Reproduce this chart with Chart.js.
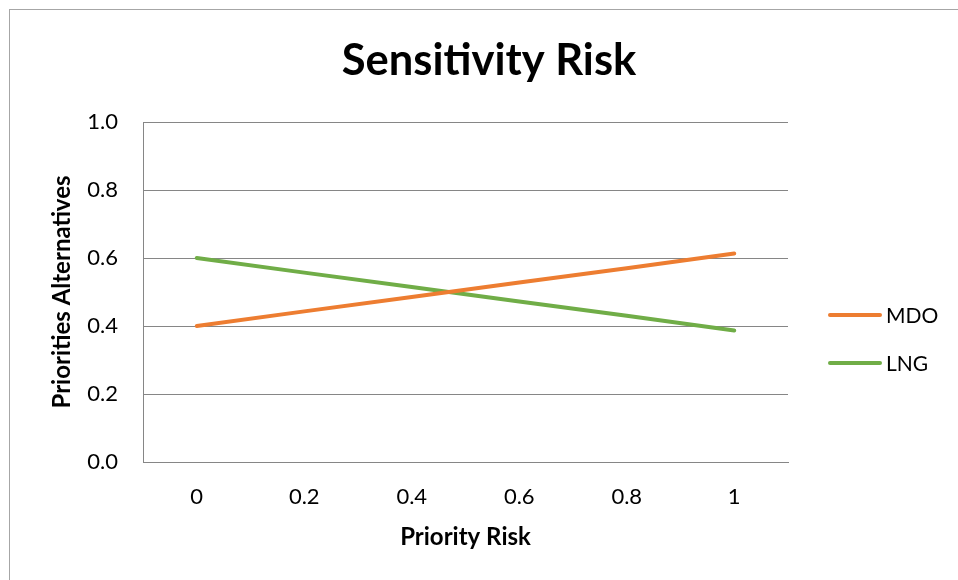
<!DOCTYPE html>
<html>
<head>
<meta charset="utf-8">
<script src="https://cdn.jsdelivr.net/npm/chart.js@4"></script>
<style>
  html, body { margin: 0; padding: 0; background: #fff; }
  #wrap { width: 958px; height: 580px; }
</style>
</head>
<body>
<div id="wrap"><canvas id="sensChart" width="958" height="580"></canvas></div>
<script>
// values
const riskLabels = ["0", "0.2", "0.4", "0.6", "0.8", "1"];
const mdoValues = [0.400, 0.443, 0.485, 0.528, 0.570, 0.613];
const lngValues = [0.600, 0.557, 0.515, 0.472, 0.430, 0.387];
const seriesNames = ["MDO", "LNG"];
const chartTitle = "Sensitivity Risk";

const fontFamily = "Lato, 'Open Sans', sans-serif";
Chart.defaults.font.family = fontFamily;
Chart.defaults.color = "#000";

// white background, grey frame and the title (centred on the whole chart box, like excel)
const chartFrame = {
  id: "chartFrame",
  beforeDraw(chart) {
    const ctx = chart.ctx;
    ctx.save();
    ctx.fillStyle = "#fff";
    ctx.fillRect(0, 0, chart.width, chart.height);
    ctx.strokeStyle = "#a6a6a6";
    ctx.lineWidth = 1;
    ctx.strokeRect(9.5, 9.5, chart.width + 20, chart.height + 20);
    ctx.fillStyle = "#000";
    ctx.font = "bold 43.5px " + fontFamily;
    ctx.textAlign = "center";
    ctx.textBaseline = "alphabetic";
    ctx.fillText(chartTitle, 489, 75);
    ctx.restore();
  }
};

// legend on the right, drawn from the datasets
const sideLegend = {
  id: "sideLegend",
  afterDraw(chart) {
    const ctx = chart.ctx;
    ctx.save();
    chart.data.datasets.forEach((ds, i) => {
      const y = 315 + i * 48;
      ctx.strokeStyle = ds.borderColor;
      ctx.lineWidth = 4;
      ctx.lineCap = "round";
      ctx.beginPath();
      ctx.moveTo(830, y);
      ctx.lineTo(880, y);
      ctx.stroke();
      ctx.fillStyle = "#000";
      ctx.font = "21px " + fontFamily;
      ctx.textBaseline = "middle";
      ctx.fillText(ds.label, 886, y + 1);
    });
    ctx.restore();
  }
};

const ctx = document.getElementById("sensChart").getContext("2d");
const chart = new Chart(ctx, {
  type: "line",
  data: {
    labels: riskLabels,
    datasets: [
      { label: seriesNames[0], data: mdoValues, borderColor: "#ED7D31", backgroundColor: "#ED7D31" },
      { label: seriesNames[1], data: lngValues, borderColor: "#70AD47", backgroundColor: "#70AD47" }
    ]
  },
  options: {
    responsive: false,
    animation: false,
    devicePixelRatio: 1,
    layout: { padding: { top: 122, left: 0, right: 170, bottom: 0 } },
    elements: {
      line: { borderWidth: 4, tension: 0, borderCapStyle: "round", borderJoinStyle: "round" },
      point: { radius: 0, hoverRadius: 0 }
    },
    plugins: {
      legend: { display: false },
      tooltip: { enabled: false },
      title: { display: false }
    },
    scales: {
      x: {
        type: "category",
        offset: true,
        grid: { display: false, drawTicks: false },
        border: { display: true, color: "#868686", width: 1 },
        ticks: { font: { size: 22 }, padding: 22, maxRotation: 0 },
        title: {
          display: true,
          text: "Priority Risk",
          font: { size: 24, weight: "bold" },
          padding: { top: 0, bottom: 28 }
        },
        afterFit: s => { s.height = 118; }
      },
      y: {
        min: 0,
        max: 1,
        ticks: { stepSize: 0.2, font: { size: 22 }, padding: 25, callback: v => v.toFixed(1) },
        grid: { color: "#868686", lineWidth: 1, drawTicks: false },
        border: { display: true, color: "#868686", width: 1 },
        title: {
          display: true,
          text: "Priorities Alternatives",
          font: { size: 24, weight: "bold" },
          padding: { top: 48, bottom: 0 }
        },
        afterFit: s => { s.width = 143; }
      }
    }
  },
  plugins: [chartFrame, sideLegend]
});
</script>
</body>
</html>
